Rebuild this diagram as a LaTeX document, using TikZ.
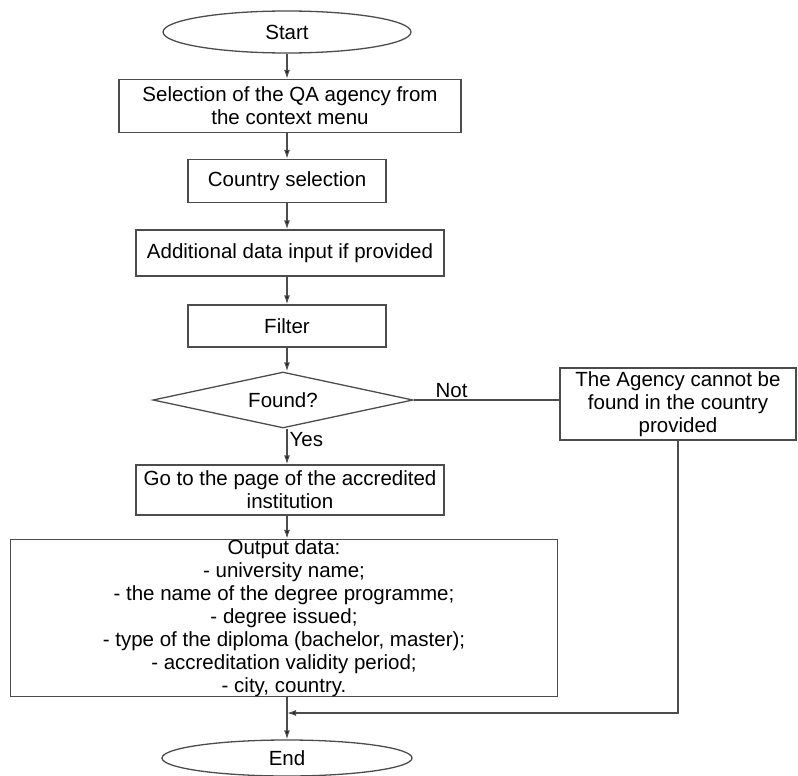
\documentclass[tikz,border=0pt]{standalone}
\usepackage{fontspec}
\setmainfont{Liberation Sans}
\usetikzlibrary{shapes.geometric,arrows.meta}

\begin{document}
\begin{tikzpicture}[x=1pt, y=-1pt]

    %--- Base styles for boxes and connectors:
    \tikzstyle{base box}=[draw=black!70, line width=1.3pt, rectangle, inner sep=0pt, align=center, font=\fontsize{20.5}{23}\selectfont]
    \tikzstyle{term node}=[base box, ellipse]
    \tikzstyle{test node}=[base box, diamond, aspect=4.6]
    \tikzstyle{flow}=[draw=black!70, line width=1.3pt, -{Latex[length=9pt, width=6pt, fill=black]}]
    \tikzstyle{tag}=[font=\fontsize{20.5}{23}\selectfont, inner sep=2pt]

    \useasboundingbox (0,0) rectangle (798,776);

    %--- Main column
    \node[term node, minimum width=248pt, minimum height=42pt] (start)   at (287,32)  {Start};
    \node[base box, minimum width=342pt, minimum height=53pt]  (select)  at (290,106) {Selection of the QA agency from\\the context menu};
    \node[base box, minimum width=198pt, minimum height=43pt]  (country) at (287,181) {Country selection};
    \node[base box, minimum width=308pt, minimum height=46pt]  (extra)   at (290,253) {Additional data input if provided};
    \node[base box, minimum width=198pt, minimum height=42pt]  (filter)  at (287,326) {Filter};
    \node[test node, minimum width=260pt, minimum height=56pt] (found)   at (283,400) {Found?};
    \node[base box, minimum width=308pt, minimum height=50pt]  (page)    at (290,490) {Go to the page of the accredited\\institution};
    \node[base box, minimum width=547pt, minimum height=157pt] (output)  at (284,618) {Output data:\\- university name;\\- the name of the degree programme;\\- degree issued;\\- type of the diploma (bachelor, master);\\- accreditation validity period;\\- city, country.};
    \node[term node, minimum width=250pt, minimum height=36pt] (end)     at (287,758) {End};

    %--- Side branch
    \node[base box, minimum width=236pt, minimum height=72pt]  (agency)  at (678,404) {The Agency cannot be\\found in the country\\provided};
    \coordinate (join) at (287,713);

    %--- Connectors
    \draw[flow] (start) -- (select.north -| start);
    \draw[flow] (select.south -| start) -- (country);
    \draw[flow] (country) -- (extra.north -| country);
    \draw[flow] (extra.south -| filter) -- (filter);
    \draw[flow] (filter) -- (filter |- found.north);
    \draw[flow] (found.south -| filter) -- node[tag, right, pos=0.3] {Yes} (page.north -| filter);
    \draw[flow] (page.south -| filter) -- (output.north -| filter);
    \draw[draw=black!70, line width=1.3pt] (found.east) -- node[tag, above, pos=0.26] {Not} (found.east -| agency.west);
    \draw[flow] (agency.south) |- (join);
    \draw[flow] (output.south -| end) -- (end);

\end{tikzpicture}
\end{document}
